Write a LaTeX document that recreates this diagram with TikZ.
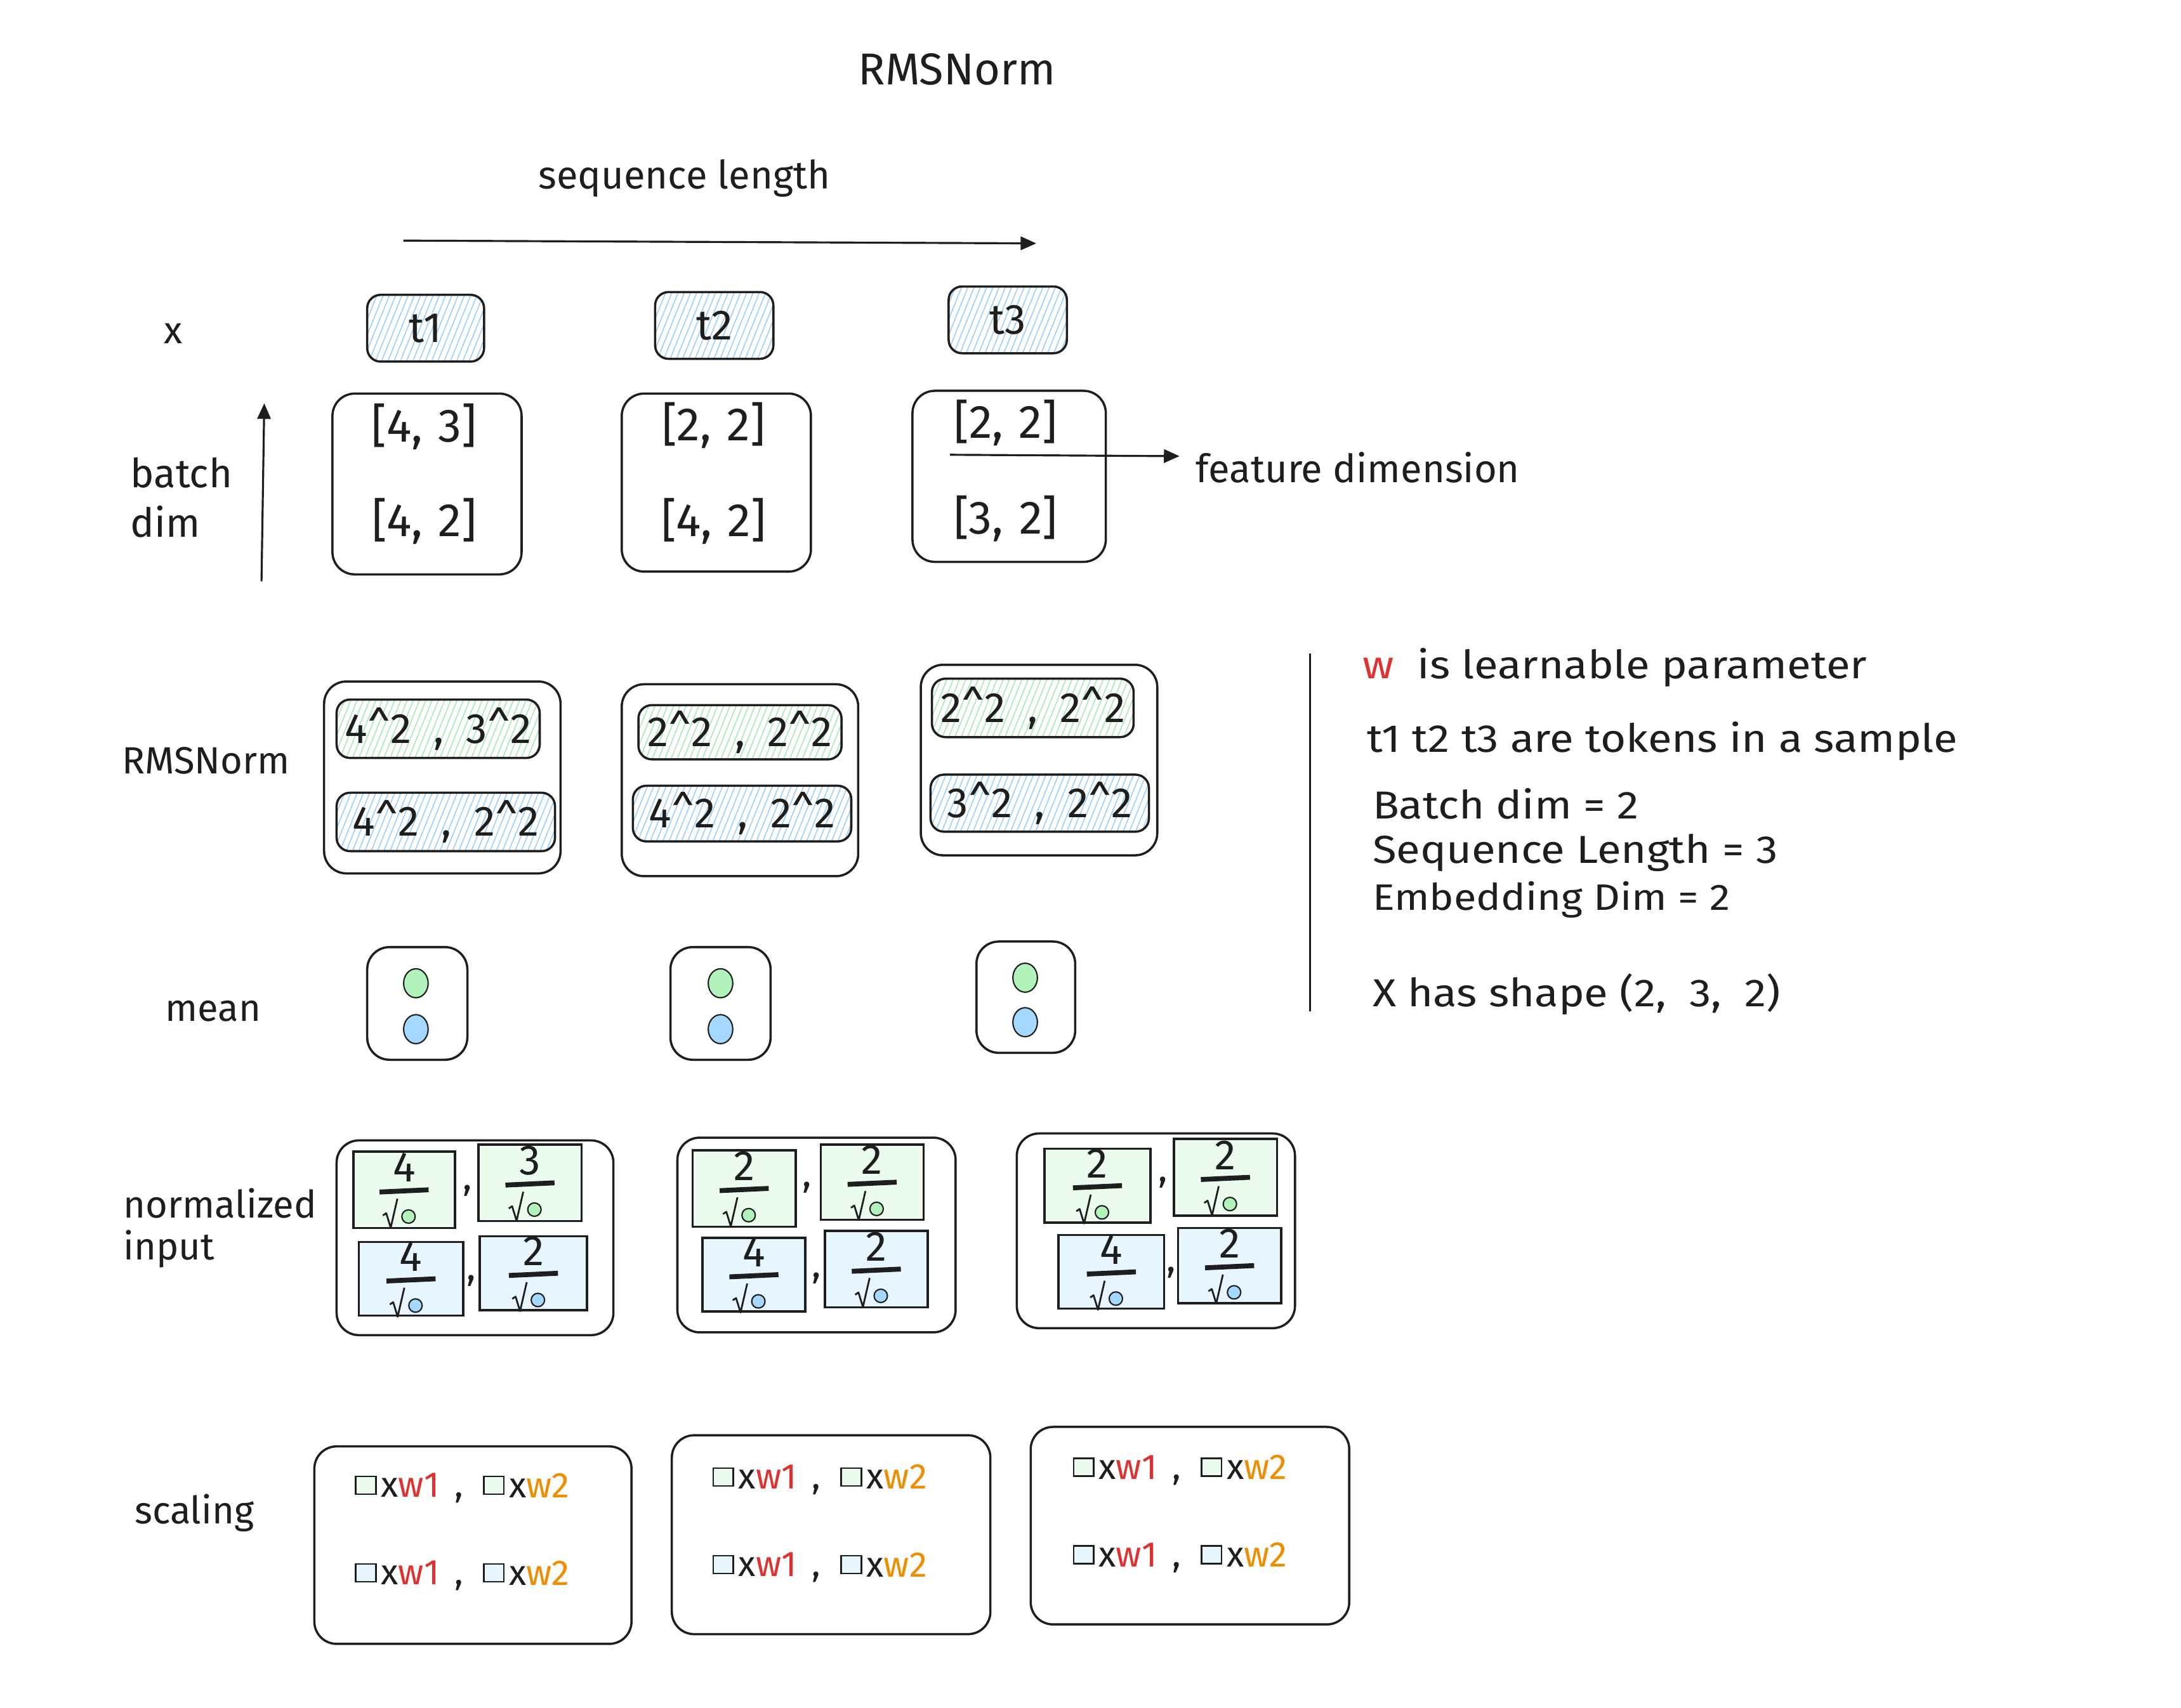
\documentclass[tikz,border=0pt]{standalone}
\usepackage{fontspec}
\setmainfont{Fira Sans}
\newfontfamily\widefont[FakeStretch=1.12]{Fira Sans}
\usetikzlibrary{fit,patterns.meta,arrows.meta,shapes.geometric}
\definecolor{hblue}{HTML}{8FCBFA}
\definecolor{hgreen}{HTML}{9EE8AA}
\definecolor{lblue}{HTML}{E7F5FF}
\definecolor{lgreen}{HTML}{EBFBEE}
\definecolor{dblue}{HTML}{A5D8FF}
\definecolor{dgreen}{HTML}{B2F2BB}
\definecolor{wred}{HTML}{E03131}
\definecolor{worange}{HTML}{F08C00}
\definecolor{ink}{HTML}{1E1E1E}
% empty box fitted to two corners
\newcommand\bx[3][]{\node[#1, fit={#3}] (#2) {};}
% box fitted to two corners, with a centred text
\newcommand\bxt[5][]{\node[#1, fit={#3}] (#2) {};
  \node[lbl, #4] (#2t) at (#2.center) {#5};}
% fraction cell: numerator over sqrt of a coloured dot
\newcommand\frc[6]{%
  \node[cell, fill=#5, fit={#2 #3}] (#1) {};
  \node[lbl, font=\fontsize{19}{20}\selectfont] (#1n) at ([yshift=10pt]#1.center) {#4};
  \coordinate (#1l) at ([xshift=-11pt,yshift=-1pt]#1.center);
  \coordinate (#1r) at ([xshift=11pt,yshift=0pt]#1.center);
  \draw[line width=2.2pt] (#1l) -- (#1r);
  \draw[line width=0.8pt, line join=round] ([shift={(-9.5pt,-11.5pt)}]#1.center) -- ([shift={(-8pt,-10.5pt)}]#1.center) -- ([shift={(-6pt,-17pt)}]#1.center) -- ([shift={(-3pt,-4pt)}]#1.center);
  \node[circle, draw=ink, line width=0.6pt, fill=#6, minimum width=5pt, minimum height=6pt, inner sep=0pt] (#1d) at ([xshift=2pt,yshift=-12pt]#1.center) {};
}
\newcommand\scl[4]{%
  \node[sq, fill=#4] (#1a) at (#2,#3) {};
  \node[lbl, sclf, anchor=west] (#1b) at ([xshift=1.5pt]#1a.east) {x\textcolor{wred}{w1}};
  \node[lbl, sclf] (#1c) at (#2+67,#3+9) {,};
  \node[sq, fill=#4] (#1d) at (#2+92,#3) {};
  \node[lbl, sclf, anchor=west] (#1e) at ([xshift=1.5pt]#1d.east) {x\textcolor{worange}{w2}};
}
\begin{document}
\begin{tikzpicture}[x=0.02192cm,y=-0.02192cm, line width=1pt, draw=ink,
  lbl/.style={font=\fontsize{17}{20}\selectfont, text=ink, inner sep=0pt},
  note/.style={font=\widefont\fontsize{17.5}{20}\selectfont, text=ink, inner sep=0pt, anchor=west},
  sclf/.style={font=\fontsize{16}{18}\selectfont},
  hatch/.style={draw=ink, rounded corners=6pt, inner sep=0pt, pattern={Lines[angle=68,distance=2.6pt,line width=0.4pt]}},
  tok/.style={hatch, pattern color=hblue},
  hg/.style={hatch, pattern color=hgreen},
  hb/.style={hatch, pattern color=hblue},
  box/.style={draw=ink, rounded corners=10pt, inner sep=0pt},
  cell/.style={draw=ink, inner sep=0pt},
  sq/.style={draw=ink, line width=0.7pt, minimum width=9pt, minimum height=8pt, inner sep=0pt},
  dot/.style={ellipse, draw=ink, line width=0.6pt, minimum width=11pt, minimum height=13pt, inner sep=0pt},
  arr/.style={-{Triangle[length=7pt,width=6pt]}, line width=0.9pt}]
\useasboundingbox (0,0) rectangle (1568,1228);
\fill[white] (0,0) rectangle (1568,1228);

% title and axes
\node[lbl, font=\fontsize{20}{24}\selectfont] (title) at (688,50) {RMSNorm};
\node[lbl, font=\fontsize{17.5}{20}\selectfont] (seqlbl) at (492,128) {sequence length};
\coordinate (seqA) at (290,173);
\coordinate (seqB) at (745,175);
\draw[arr] (seqA) -- (seqB);

% x row
\node[lbl, anchor=west] (xlbl) at (117,240) {x};
\bxt[tok]{t1}{(264,212)(348,260)}{font=\fontsize{19}{20}\selectfont}{t1}
\bxt[tok]{t2}{(471,210)(556,258)}{font=\fontsize{19}{20}\selectfont}{t2}
\bxt[tok]{t3}{(682,206)(767,254)}{font=\fontsize{19}{20}\selectfont}{t3}

\bx[box]{v1}{(239,283)(375,413)}
\bx[box]{v2}{(447,283)(583,411)}
\bx[box]{v3}{(656,281)(795,404)}
\tikzset{val/.style={lbl, font=\fontsize{21}{22}\selectfont}}
\node[val] (v1a) at (305,307) {[4,\hspace{7pt}3]};
\node[val] (v1b) at (305,375) {[4,\hspace{7pt}2]};
\node[val] (v2a) at (513,306) {[2,\hspace{7pt}2]};
\node[val] (v2b) at (513,375) {[4,\hspace{7pt}2]};
\node[val] (v3a) at (723,304) {[2,\hspace{7pt}2]};
\node[val] (v3b) at (723,373) {[3,\hspace{7pt}2]};

\coordinate (batA) at (188,418);
\coordinate (batB) at (190,290);
\draw[arr] (batA) -- (batB);
\node[lbl, font=\fontsize{18}{20}\selectfont, anchor=west] (batch) at (93,340) {batch};
\node[lbl, font=\fontsize{18}{20}\selectfont, anchor=west] (dim) at (93,375) {dim};

\coordinate (featA) at (683,327);
\coordinate (featB) at (848,328);
\draw[arr] (featA) -- (featB);
\node[lbl, font=\fontsize{17.5}{20}\selectfont, anchor=west] (feat) at (859,336) {feature dimension};

% RMSNorm row
\node[lbl, anchor=west] (rmslbl) at (87,547) {RMSNorm};
\bx[box]{r1}{(233,490)(403,628)}
\bx[box]{r2}{(447,492)(617,630)}
\bx[box]{r3}{(662,478)(832,615)}
\tikzset{sqf/.style={font=\fontsize{19}{20}\selectfont}}
\bxt[hg]{r1g}{(242,503)(388,545)}{sqf}{4\textasciicircum2\ \ ,\ \ 3\textasciicircum2}
\bxt[hb]{r1b}{(242,570)(399,612)}{sqf}{4\textasciicircum2\ \ ,\ \ 2\textasciicircum2}
\bxt[hg]{r2g}{(459,507)(605,546)}{sqf}{2\textasciicircum2\ \ ,\ \ 2\textasciicircum2}
\bxt[hb]{r2b}{(455,565)(612,605)}{sqf}{4\textasciicircum2\ \ ,\ \ 2\textasciicircum2}
\bxt[hg]{r3g}{(670,488)(815,530)}{sqf}{2\textasciicircum2\ \ ,\ \ 2\textasciicircum2}
\bxt[hb]{r3b}{(669,557)(826,598)}{sqf}{3\textasciicircum2\ \ ,\ \ 2\textasciicircum2}

% mean row
\node[lbl, anchor=west] (meanlbl) at (118,727) {mean};
\bx[box]{m1}{(264,681)(336,762)}
\bx[box]{m2}{(482,681)(554,762)}
\bx[box]{m3}{(702,677)(773,757)}
\node[dot, fill=dgreen] (m1g) at (299,707) {};
\node[dot, fill=dblue] (m1b) at (299,740) {};
\node[dot, fill=dgreen] (m2g) at (518,707) {};
\node[dot, fill=dblue] (m2b) at (518,740) {};
\node[dot, fill=dgreen] (m3g) at (737,703) {};
\node[dot, fill=dblue] (m3b) at (737,735) {};

% normalized input row
\node[lbl, anchor=west] (normlbl) at (88,865) {normalized};
\node[lbl, anchor=west] (inplbl) at (88,898) {input};
\bx[box]{n1}{(242,820)(441,960)}
\bx[box]{n2}{(487,818)(687,958)}
\bx[box]{n3}{(731,815)(931,955)}
\frc{n1ga}{(254,828)}{(327,883)}{4}{lgreen}{dgreen}
\frc{n1gb}{(344,823)}{(418,878)}{3}{lgreen}{dgreen}
\frc{n1ba}{(258,893)}{(333,946)}{4}{lblue}{dblue}
\frc{n1bb}{(345,889)}{(422,942)}{2}{lblue}{dblue}
\frc{n2ga}{(498,827)}{(572,882)}{2}{lgreen}{dgreen}
\frc{n2gb}{(590,823)}{(664,877)}{2}{lgreen}{dgreen}
\frc{n2ba}{(505,890)}{(579,943)}{4}{lblue}{dblue}
\frc{n2bb}{(593,885)}{(667,940)}{2}{lblue}{dblue}
\frc{n3ga}{(751,826)}{(827,879)}{2}{lgreen}{dgreen}
\frc{n3gb}{(844,819)}{(918,874)}{2}{lgreen}{dgreen}
\frc{n3ba}{(761,888)}{(837,941)}{4}{lblue}{dblue}
\frc{n3bb}{(847,883)}{(921,937)}{2}{lblue}{dblue}
\node[lbl] (c1) at (336,856) {,};
\node[lbl] (c2) at (339,921) {,};
\node[lbl] (c3) at (580,854) {,};
\node[lbl] (c4) at (587,919) {,};
\node[lbl] (c5) at (836,850) {,};
\node[lbl] (c6) at (842,915) {,};

% scaling row
\node[lbl, anchor=west] (scllbl) at (96,1088) {scaling};
\bx[box]{s1}{(226,1040)(454,1182)}
\bx[box]{s2}{(483,1032)(712,1175)}
\bx[box]{s3}{(741,1026)(970,1168)}
\scl{s1r1}{263}{1068}{lgreen}
\scl{s1r2}{263}{1131}{lblue}
\scl{s2r1}{520}{1062}{lgreen}
\scl{s2r2}{520}{1125}{lblue}
\scl{s3r1}{779}{1055}{lgreen}
\scl{s3r2}{779}{1118}{lblue}

% notes
\coordinate (vlA) at (942,470);
\coordinate (vlB) at (942,727);
\draw[line width=0.8pt] (vlA) -- (vlB);
\node[note] (note1) at (979,480) {\textcolor{wred}{w}\ \ is learnable parameter};
\node[note] (note2) at (982,533) {t1 t2 t3 are tokens in a sample};
\node[note] (note3) at (986,578) {Batch dim = 2};
\node[note] (note4) at (986,613) {Sequence Length = 3};
\node[note, font=\widefont\fontsize{16.5}{20}\selectfont] (note5) at (986,647) {Embedding Dim = 2};
\node[note] (note6) at (986,715) {X has shape (2,\ \ 3,\ \ 2)};
\end{tikzpicture}
\end{document}
